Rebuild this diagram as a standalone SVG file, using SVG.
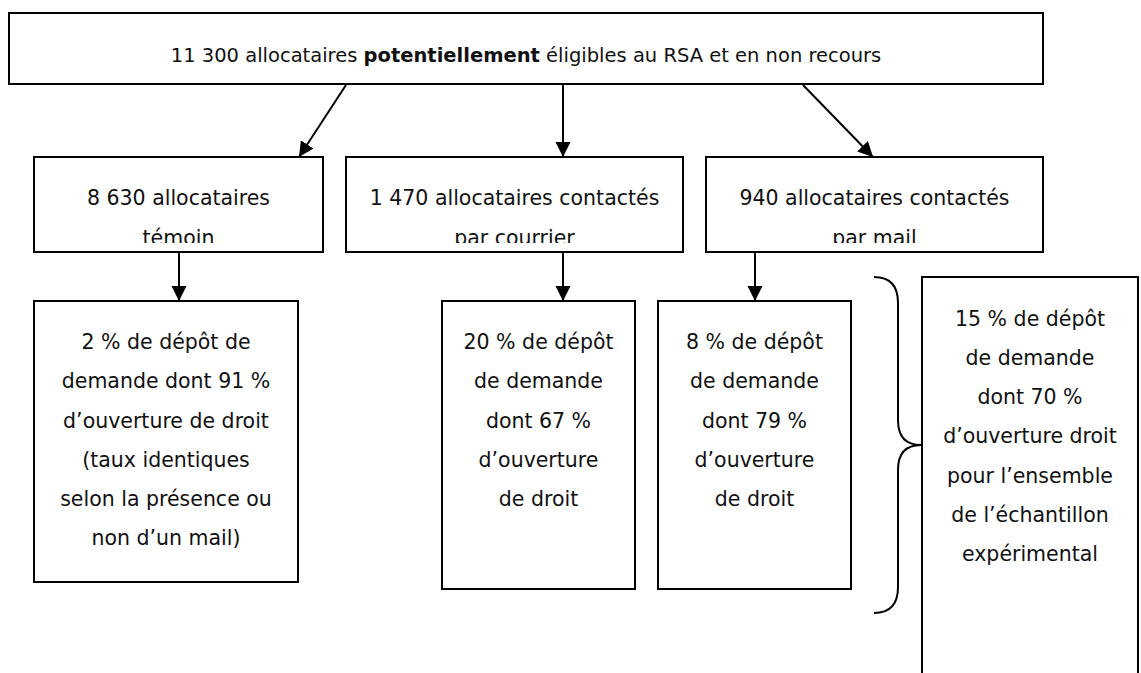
<svg xmlns="http://www.w3.org/2000/svg" width="1141" height="673" viewBox="0 0 1141 673">
  <style>
    .box { fill: #ffffff; stroke: #000000; stroke-width: 2; }
    .txt { font-family: "DejaVu Sans", "Liberation Sans", sans-serif; font-size: 20.5px; fill: #111111; text-anchor: middle; }
    .top { font-size: 19.5px; }
    .conn { stroke: #000000; stroke-width: 2; fill: none; }
    .brace { stroke: #000000; stroke-width: 2; fill: none; }
  </style>
  <defs>
    <marker id="arrow" markerUnits="userSpaceOnUse" markerWidth="16" markerHeight="16" refX="15" refY="7.5" orient="auto">
      <path d="M0,0 L15,7.5 L0,15 Z" fill="#000000"/>
    </marker>
    <clipPath id="row2clip">
      <rect x="0" y="150" width="1141" height="93"/>
    </clipPath>
  </defs>
  <rect x="0" y="0" width="1141" height="673" fill="#ffffff"/>

  <g id="node-total">
    <rect class="box" x="9" y="13" width="1034" height="71"/>
    <text class="txt top" x="526" y="62">11 300 allocataires <tspan font-weight="bold">potentiellement</tspan> éligibles au RSA et en non recours</text>
  </g>

  <g id="node-temoin">
    <rect class="box" x="34" y="157" width="289" height="95"/>
    <g clip-path="url(#row2clip)">
      <text class="txt" x="178.5" y="205">8 630 allocataires</text>
      <text class="txt" x="178.5" y="244.5">témoin</text>
    </g>
  </g>

  <g id="node-courrier">
    <rect class="box" x="346" y="157" width="337" height="95"/>
    <g clip-path="url(#row2clip)">
      <text class="txt" x="514.5" y="205">1 470 allocataires contactés</text>
      <text class="txt" x="514.5" y="244.5">par courrier</text>
    </g>
  </g>

  <g id="node-mail">
    <rect class="box" x="706" y="157" width="337" height="95"/>
    <g clip-path="url(#row2clip)">
      <text class="txt" x="874.5" y="205">940 allocataires contactés</text>
      <text class="txt" x="874.5" y="244.5">par mail</text>
    </g>
  </g>

  <g id="node-res-temoin">
    <rect class="box" x="34" y="301" width="264" height="281"/>
    <text class="txt" x="166" y="349">2 % de dépôt de</text>
    <text class="txt" x="166" y="388">demande dont 91 %</text>
    <text class="txt" x="166" y="428">d’ouverture de droit</text>
    <text class="txt" x="166" y="467">(taux identiques</text>
    <text class="txt" x="166" y="506">selon la présence ou</text>
    <text class="txt" x="166" y="545">non d’un mail)</text>
  </g>

  <g id="node-res-courrier">
    <rect class="box" x="442" y="301" width="193" height="288"/>
    <text class="txt" x="538.5" y="349">20 % de dépôt</text>
    <text class="txt" x="538.5" y="388">de demande</text>
    <text class="txt" x="538.5" y="428">dont 67 %</text>
    <text class="txt" x="538.5" y="467">d’ouverture</text>
    <text class="txt" x="538.5" y="506">de droit</text>
  </g>

  <g id="node-res-mail">
    <rect class="box" x="658" y="301" width="193" height="288"/>
    <text class="txt" x="754.5" y="349">8 % de dépôt</text>
    <text class="txt" x="754.5" y="388">de demande</text>
    <text class="txt" x="754.5" y="428">dont 79 %</text>
    <text class="txt" x="754.5" y="467">d’ouverture</text>
    <text class="txt" x="754.5" y="506">de droit</text>
  </g>

  <g id="node-res-ensemble">
    <rect class="box" x="922" y="277" width="216" height="420"/>
    <text class="txt" x="1030" y="326">15 % de dépôt</text>
    <text class="txt" x="1030" y="365">de demande</text>
    <text class="txt" x="1030" y="404">dont 70 %</text>
    <text class="txt" x="1030" y="443">d’ouverture droit</text>
    <text class="txt" x="1030" y="483">pour l’ensemble</text>
    <text class="txt" x="1030" y="522">de l’échantillon</text>
    <text class="txt" x="1030" y="561">expérimental</text>
  </g>

  <g id="brace">
    <path class="brace" d="M874,277 C891,277 898,287 898,303 L898,420 C898,436 905,445 921,445 C905,445 898,454 898,470 L898,587 C898,603 891,613 874,613"/>
  </g>

  <g id="connectors">
    <line class="conn" x1="346" y1="85" x2="299" y2="157" marker-end="url(#arrow)"/>
    <line class="conn" x1="563" y1="85" x2="563" y2="157" marker-end="url(#arrow)"/>
    <line class="conn" x1="803" y1="85" x2="873" y2="157" marker-end="url(#arrow)"/>
    <line class="conn" x1="179" y1="253" x2="179" y2="301" marker-end="url(#arrow)"/>
    <line class="conn" x1="563" y1="253" x2="563" y2="301" marker-end="url(#arrow)"/>
    <line class="conn" x1="755" y1="253" x2="755" y2="301" marker-end="url(#arrow)"/>
  </g>
</svg>
